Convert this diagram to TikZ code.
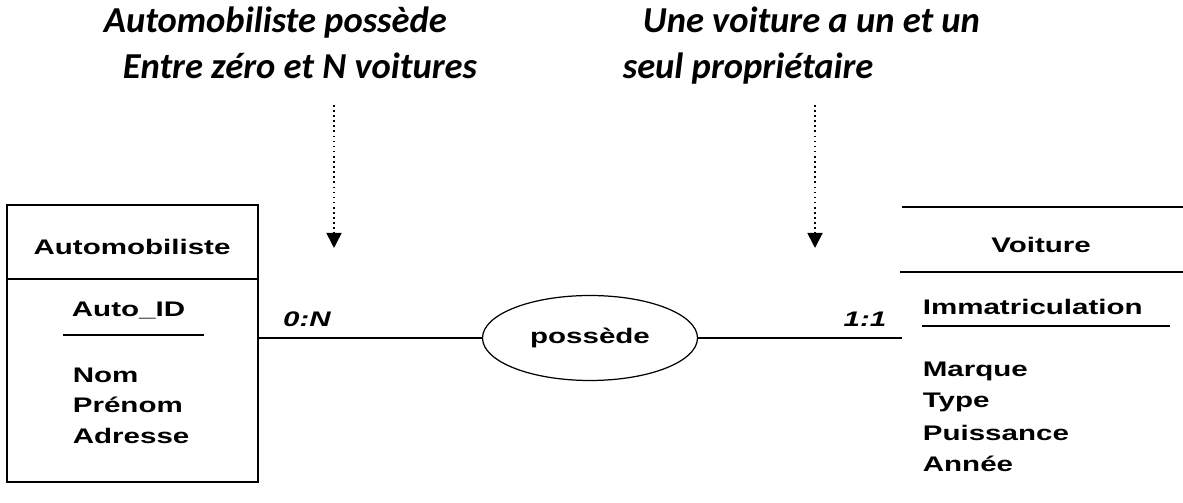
\documentclass[tikz,border=0pt]{standalone}
\usepackage{fontspec}
\setmainfont{Liberation Sans}
\newfontfamily\erfont[FakeStretch=1.4]{Liberation Sans}
\newfontfamily\notefont{Carlito}
\usetikzlibrary{shapes.geometric,arrows.meta}

\tikzset{
  attr/.style={font=\erfont\bfseries\fontsize{12}{14}\selectfont, inner sep=0pt},
  card/.style={font=\erfont\bfseries\itshape\fontsize{12}{14}\selectfont, inner sep=0pt, anchor=base},
  note/.style={font=\notefont\bfseries\itshape\fontsize{20.8}{24}\selectfont, inner sep=0pt, anchor=base west},
  notearrow/.style={dotted, line width=0.9pt, -{Triangle[width=0.3cm,length=0.3cm]}}
}

\begin{document}
\begin{tikzpicture}[line width=1pt]
  \useasboundingbox (0,0) rectangle (23.66,10.04);

  % remarques du haut
  \node [note] (n1a) at (2.06,9.38) {Automobiliste possède};
  \node [note] (n1b) at (2.44,8.46) {Entre zéro et N voitures};
  \node [note] (n2a) at (12.84,9.38) {Une voiture a un et un};
  \node [note] (n2b) at (12.44,8.46) {seul propriétaire};
  \coordinate (a1) at (6.68,7.94);
  \coordinate (b1) at (6.68,5.08);
  \coordinate (a2) at (16.30,7.94);
  \coordinate (b2) at (16.30,5.08);
  \draw [notearrow] (a1)--(b1);
  \draw [notearrow] (a2)--(b2);

  % entite Automobiliste
  \node [draw, inner sep=0pt, minimum width=5.02cm, minimum height=5.54cm] (auto) at (2.65,3.17) {};
  \draw (0.14,4.46)--(5.16,4.46);
  \node [attr, anchor=base] (autotitle) at (2.64,4.94) {Automobiliste};
  \node [attr, anchor=base] (autoid) at (2.57,3.70) {Auto\_ID};
  \draw (1.26,3.34)--(4.08,3.34);
  \node [attr, anchor=base west] (nom) at (1.44,2.40) {Nom};
  \node [attr, anchor=base west] (prenom) at (1.44,1.80) {Prénom};
  \node [attr, anchor=base west] (adresse) at (1.44,1.18) {Adresse};

  % entite Voiture
  \draw (18.04,5.90)--(23.66,5.90);
  \draw (18.00,4.60)--(23.66,4.60);
  \node [attr, anchor=base] (voiture) at (20.82,4.98) {Voiture};
  \node [attr, anchor=base west] (immat) at (18.44,3.74) {Immatriculation};
  \draw (18.44,3.52)--(23.40,3.52);
  \node [attr, anchor=base west] (marque) at (18.44,2.50) {Marque};
  \node [attr, anchor=base west] (type) at (18.44,1.88) {Type};
  \node [attr, anchor=base west] (puiss) at (18.44,1.24) {Puissance};
  \node [attr, anchor=base west] (annee) at (18.44,0.62) {Année};
  \coordinate (voit) at (18.04,3.28);

  % association
  \node [draw, ellipse, line width=0.7pt, inner sep=0pt, minimum width=4.3cm, minimum height=1.7cm, attr] (poss) at (11.80,3.28) {possède};
  \draw (auto.east |- poss)--(poss.west);
  \draw (poss.east)--(voit);
  \node [card] (c1) at (6.14,3.50) {0:N};
  \node [card] (c2) at (17.30,3.50) {1:1};
\end{tikzpicture}
\end{document}
